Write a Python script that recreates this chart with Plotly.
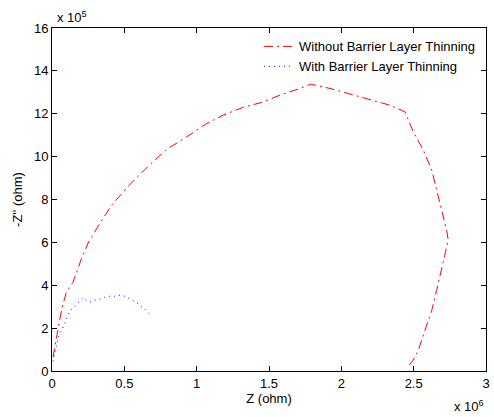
import plotly.graph_objects as go

# Nyquist data: real part Z and negative imaginary part -Z'' (ohm)
z_without = [0.007e6, 0.03e6, 0.053e6, 0.069e6, 0.097e6, 0.145e6, 0.20e6, 0.249e6,
             0.332e6, 0.413e6, 0.534e6, 0.666e6, 0.793e6, 0.931e6, 1.058e6, 1.184e6,
             1.322e6, 1.45e6, 1.576e6, 1.714e6, 1.788e6, 1.922e6, 2.06e6, 2.198e6,
             2.336e6, 2.44e6, 2.497e6, 2.567e6, 2.625e6, 2.659e6, 2.698e6, 2.728e6,
             2.739e6, 2.723e6, 2.694e6, 2.659e6, 2.625e6, 2.578e6, 2.532e6, 2.497e6,
             2.452e6]
zi_without = [0.64e5, 1.59e5, 2.37e5, 2.93e5, 3.63e5, 4.14e5, 5.17e5, 5.96e5,
              6.9e5, 7.74e5, 8.67e5, 9.56e5, 10.34e5, 10.92e5, 11.5e5, 11.94e5,
              12.3e5, 12.53e5, 12.87e5, 13.18e5, 13.38e5, 13.18e5, 12.92e5, 12.64e5,
              12.4e5, 12.09e5, 11.16e5, 10.3e5, 9.37e5, 8.44e5, 7.35e5, 6.57e5,
              6.1e5, 5.63e5, 4.7e5, 3.77e5, 2.83e5, 1.9e5, 0.97e5, 0.5e5,
              0.14e5]

z_with = [0.007e6, 0.019e6, 0.03e6, 0.046e6, 0.064e6, 0.081e6, 0.106e6, 0.126e6,
          0.157e6, 0.185e6, 0.216e6, 0.237e6, 0.261e6, 0.295e6, 0.33e6, 0.364e6,
          0.399e6, 0.433e6, 0.468e6, 0.503e6, 0.537e6, 0.572e6, 0.606e6, 0.641e6,
          0.675e6]
zi_with = [0.45e5, 0.89e5, 1.15e5, 1.62e5, 1.85e5, 2.09e5, 2.55e5, 2.8e5,
           3.02e5, 3.22e5, 3.41e5, 3.3e5, 3.21e5, 3.3e5, 3.35e5, 3.44e5,
           3.49e5, 3.49e5, 3.53e5, 3.49e5, 3.39e5, 3.25e5, 3.07e5, 2.88e5,
           2.65e5]

x_ticks = [0, 0.5e6, 1e6, 1.5e6, 2e6, 2.5e6, 3e6]
x_tick_text = ["0", "0.5", "1", "1.5", "2", "2.5", "3"]
y_ticks = [0, 2e5, 4e5, 6e5, 8e5, 10e5, 12e5, 14e5, 16e5]
y_tick_text = ["0", "2", "4", "6", "8", "10", "12", "14", "16"]

FONT = "Liberation Sans, Arial, Helvetica, sans-serif"
FS = 13

fig = go.Figure()
fig.add_trace(go.Scatter(
    x=z_without, y=zi_without, mode="lines",
    name="Without Barrier Layer Thinning",
    line=dict(color="#ff0000", width=1, dash="9px,4px,2px,4px"),
))
fig.add_trace(go.Scatter(
    x=z_with, y=zi_with, mode="lines",
    name="With Barrier Layer Thinning",
    line=dict(color="#0000ff", width=1, dash="1px,4px"),
))

axis_common = dict(
    showgrid=False, zeroline=False, showline=True, linecolor="black", linewidth=1,
    mirror="ticks", ticks="inside", ticklen=5, tickcolor="black", tickwidth=1,
    tickfont=dict(family=FONT, size=FS, color="black"),
)

fig.update_layout(
    width=494, height=417,
    margin=dict(l=52, r=8, t=28, b=46, autoexpand=False),
    paper_bgcolor="white", plot_bgcolor="white",
    font=dict(family=FONT, size=FS, color="black"),
    showlegend=True,
    legend=dict(
        x=0.477, y=0.99, xanchor="left", yanchor="top",
        bgcolor="rgba(0,0,0,0)", borderwidth=0,
        font=dict(family=FONT, size=13, color="black"),
        itemwidth=30, tracegroupgap=0,
    ),
    xaxis=dict(range=[0, 3e6], tickvals=x_ticks, ticktext=x_tick_text,
               title=dict(text="Z (ohm)", font=dict(family=FONT, size=FS), standoff=4),
               automargin=False, **axis_common),
    yaxis=dict(range=[0, 16e5], tickvals=y_ticks, ticktext=y_tick_text,
               title=dict(text="-Z'' (ohm)", font=dict(family=FONT, size=FS), standoff=8),
               automargin=False, **axis_common),
    annotations=[
        dict(text="x 10<sup>5</sup>", xref="paper", yref="paper", x=0.0, y=1.0,
             xanchor="left", yanchor="bottom", xshift=3, yshift=1, showarrow=False,
             font=dict(family=FONT, size=FS)),
        dict(text="x 10<sup>6</sup>", xref="paper", yref="paper", x=1.0, y=0.0,
             xanchor="right", yanchor="top", yshift=-25, showarrow=False,
             font=dict(family=FONT, size=FS)),
    ],
)

fig.write_html("out.html")
